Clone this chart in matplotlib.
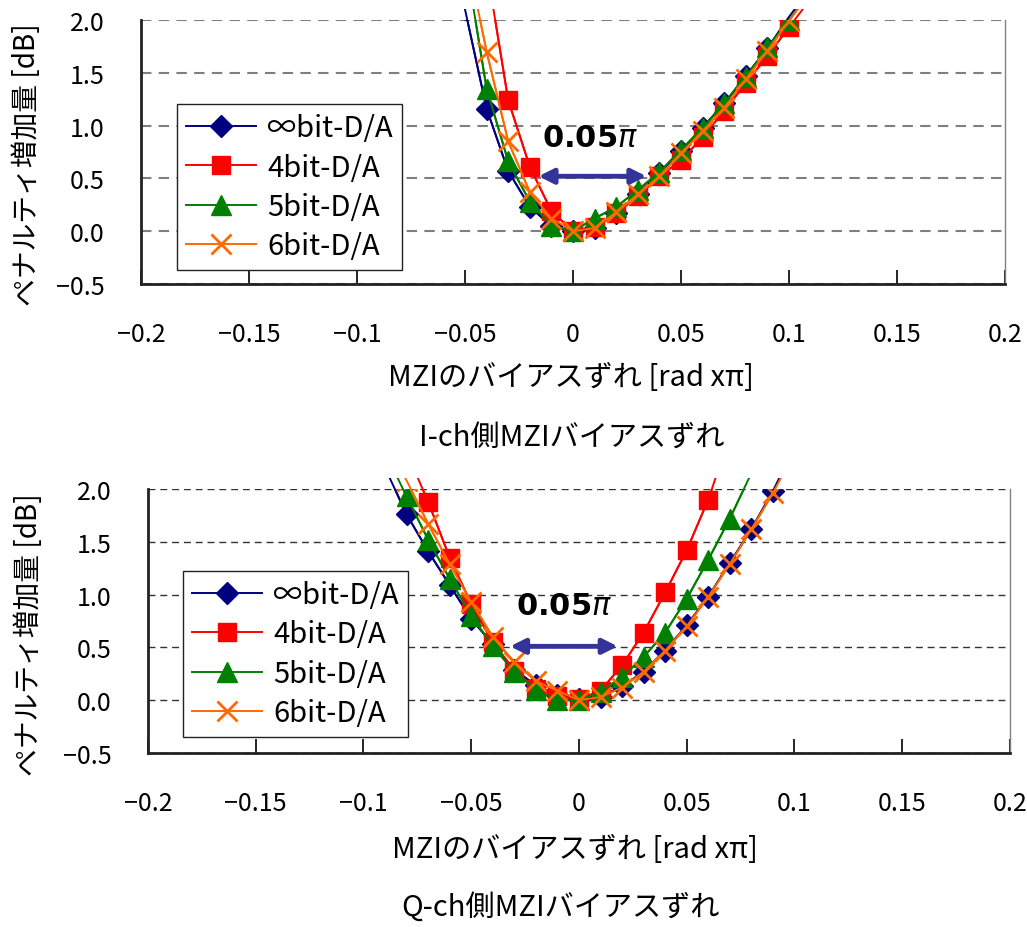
import numpy as np
import matplotlib
matplotlib.use("Agg")
import matplotlib.pyplot as plt
from matplotlib.patches import Rectangle

plt.rcParams['font.family'] = ['Noto Sans CJK JP', 'DejaVu Sans']
plt.rcParams['axes.unicode_minus'] = True

nan = np.nan

# bias offset of the MZI [rad x pi]
x_ich = [-0.05, -0.04, -0.03, -0.02, -0.01, 0.0, 0.01, 0.02, 0.03, 0.04,
         0.05, 0.06, 0.07, 0.08, 0.09, 0.10, 0.11]
x_qch = [-0.09, -0.08, -0.07, -0.06, -0.05, -0.04, -0.03, -0.02, -0.01, 0.0,
         0.01, 0.02, 0.03, 0.04, 0.05, 0.06, 0.07, 0.08, 0.09, 0.10]

# penalty increase [dB], I-ch side
ich_inf = [2.10, 1.16, 0.57, 0.23, 0.05, 0.00, 0.03, 0.17, 0.35, 0.55,
           0.76, 0.98, 1.21, 1.47, 1.73, 2.03, 2.30]
ich_4bit = [nan, 2.50, 1.24, 0.61, 0.19, 0.00, 0.04, 0.17, 0.33, 0.52,
            0.67, 0.89, 1.14, 1.40, 1.66, 1.93, 2.20]
ich_5bit = [2.60, 1.35, 0.66, 0.28, 0.05, 0.00, 0.12, 0.23, 0.39, 0.56,
            0.77, 0.98, 1.21, 1.46, 1.74, 2.00, 2.27]
ich_6bit = [2.70, 1.70, 0.85, 0.37, 0.12, 0.00, 0.03, 0.18, 0.35, 0.52,
            0.74, 0.95, 1.17, 1.44, 1.71, 1.99, 2.26]

# penalty increase [dB], Q-ch side
qch_inf = [2.20, 1.76, 1.41, 1.09, 0.77, 0.53, 0.29, 0.14, 0.05, 0.01,
           0.03, 0.13, 0.27, 0.47, 0.71, 0.98, 1.30, 1.62, 1.98, 2.40]
qch_4bit = [nan, 2.35, 1.88, 1.35, 0.91, 0.55, 0.28, 0.11, 0.04, 0.01,
            0.09, 0.33, 0.64, 1.02, 1.42, 1.90, 2.50, nan, nan, nan]
qch_5bit = [2.35, 1.93, 1.52, 1.15, 0.80, 0.51, 0.27, 0.10, 0.00, 0.00,
            0.08, 0.22, 0.41, 0.64, 0.96, 1.33, 1.72, 2.15, nan, nan]
qch_6bit = [2.45, 2.08, 1.67, 1.29, 0.93, 0.60, 0.36, 0.18, 0.09, 0.00,
            0.03, 0.12, 0.27, 0.47, 0.70, 0.98, 1.29, 1.62, 1.96, 2.35]

labels = ['∞bit-D/A', '4bit-D/A', '5bit-D/A', '6bit-D/A']
colors = ['#000080', '#ff0000', '#008000', '#ff6a00']
markers = ['D', 's', '^', 'x']
msizes = [11, 13, 14, 15]

xticks = [-0.2, -0.15, -0.1, -0.05, 0, 0.05, 0.1, 0.15, 0.2]
xticklabels = ['−0.2', '−0.15', '−0.1', '−0.05', '0', '0.05', '0.1', '0.15', '0.2']
yticks = [-0.5, 0.0, 0.5, 1.0, 1.5, 2.0]
yticklabels = ['−0.5', '0.0', '0.5', '1.0', '1.5', '2.0']

span = 0.05  # width marked by the arrow [rad x pi]

fig = plt.figure(figsize=(10.27, 9.28), dpi=100)
ax1 = fig.add_axes([0.1373, 0.6929, 0.8413, 0.2845])
ax2 = fig.add_axes([0.1441, 0.1875, 0.8393, 0.2845])


def draw_panel(ax, x, series, grid_color, grid_lw, legend_xy, arrow_x0, arrow_y, text_xy):
    handles = []
    for y, lab, c, m, ms in zip(series, labels, colors, markers, msizes):
        mew = 2.0 if m == 'x' else 1.0
        h, = ax.plot(x, y, color=c, lw=1.4, marker=m, markersize=ms,
                     markeredgewidth=mew, markeredgecolor=c, label=lab, zorder=3)
        handles.append(h)
        # the curves run a little past the top of the plot area
        ln, = ax.plot(x, y, color=c, lw=1.4, zorder=2.9)
        ln.set_clip_path(Rectangle((0, 0), 1, 1.04, transform=ax.transAxes))

    ax.set_xlim(-0.2, 0.2)
    ax.set_ylim(-0.5, 2.0)
    ax.set_xticks(xticks)
    ax.set_xticklabels(xticklabels)
    ax.set_yticks(yticks)
    ax.set_yticklabels(yticklabels)
    ax.tick_params(axis='x', direction='in', length=10, width=1.2, pad=27, labelsize=18)
    ax.tick_params(axis='y', length=0, pad=26, labelsize=18)

    ax.yaxis.grid(True, linestyle=(0, (5, 3.5)), color=grid_color, lw=grid_lw, zorder=0)
    ax.set_axisbelow(True)
    ax.spines['top'].set_visible(False)
    ax.spines['right'].set_color('#808080')
    ax.spines['right'].set_linewidth(1.0)
    for s in ['left', 'bottom']:
        ax.spines[s].set_color('#222222')
        ax.spines[s].set_linewidth(2.0)

    leg = ax.legend(handles=handles, loc='lower left', bbox_to_anchor=legend_xy,
                    borderaxespad=0, fontsize=21, handlelength=2.4, handletextpad=0.4,
                    borderpad=0.3, labelspacing=0.32, fancybox=False, framealpha=1)
    leg.get_frame().set_edgecolor('#222222')
    leg.get_frame().set_linewidth(1.0)

    ax.annotate('', xy=(arrow_x0 + span, arrow_y), xytext=(arrow_x0, arrow_y),
                arrowprops=dict(arrowstyle='<|-|>', color='#333399', lw=3.5,
                                mutation_scale=22, shrinkA=0, shrinkB=0), zorder=4)
    ax.text(text_xy[0], text_xy[1], '0.05$\\pi$', fontsize=22, fontweight='bold',
            ha='center', va='center', family='DejaVu Sans', zorder=4)


draw_panel(ax1, x_ich, [ich_inf, ich_4bit, ich_5bit, ich_6bit], '#7f7f7f', 1.5,
           (0.0417, 0.053), -0.016, 0.52, (0.008, 0.89))
draw_panel(ax2, x_qch, [qch_inf, qch_4bit, qch_5bit, qch_6bit], '#333333', 1.0,
           (0.0406, 0.061), -0.032, 0.51, (-0.007, 0.90))

ylab = 'ペナルティ増加量 [dB]'
xlab = 'MZIのバイアスずれ [rad xπ]'
fig.text(27 / 1027, 1 - 165 / 928, ylab, rotation=90, ha='center', va='center', fontsize=20)
fig.text(29 / 1027, 1 - 635 / 928, ylab, rotation=90, ha='center', va='center', fontsize=20)
fig.text(571 / 1027, 1 - 378 / 928, xlab, ha='center', va='center', fontsize=21)
fig.text(575 / 1027, 1 - 850 / 928, xlab, ha='center', va='center', fontsize=21)
fig.text(572 / 1027, 1 - 438 / 928, 'I-ch側MZIバイアスずれ', ha='center', va='center', fontsize=21)
fig.text(560 / 1027, 1 - 908 / 928, 'Q-ch側MZIバイアスずれ', ha='center', va='center', fontsize=21)

fig.savefig('out.png', dpi=100)
